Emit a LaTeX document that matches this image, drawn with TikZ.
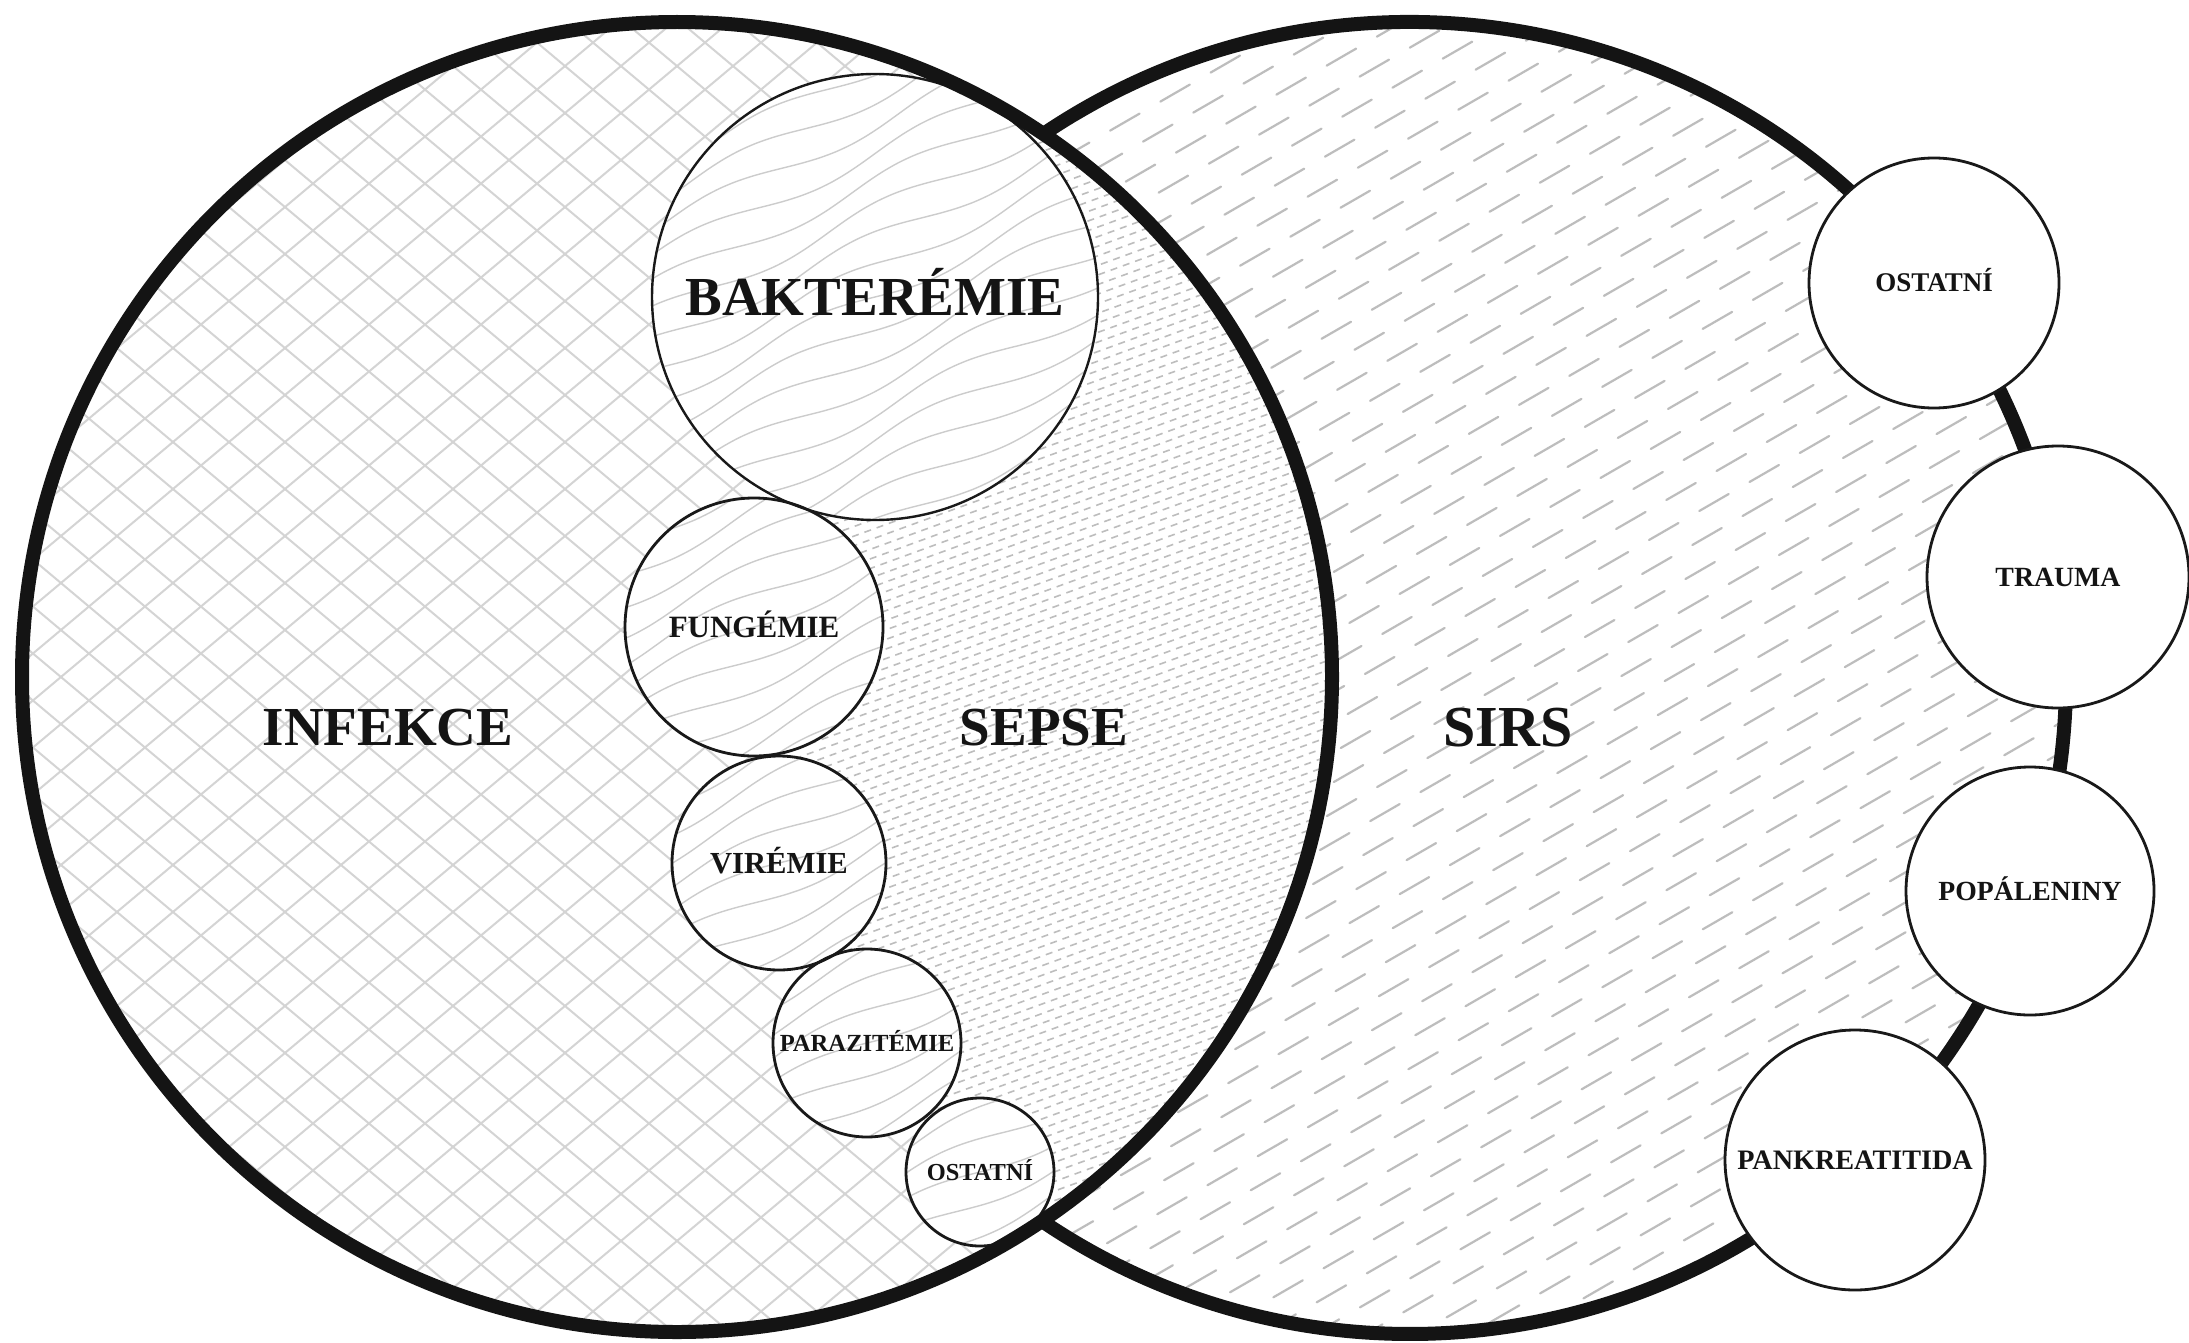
\documentclass[tikz,border=0pt]{standalone}
\usepackage{fontspec}
\setmainfont{Liberation Serif}
\newcommand\mywood[3]{%
  \begin{scope}
    \clip (#1,#2) circle (#3);
    \fill[white] (#1,#2) circle (#3);
    \begin{scope}[shift={(#1,#2)}, rotate=25]
      \foreach \k in {-9,...,9}
        \draw[woodline] plot[smooth, domain=-250:250, samples=30] (\x, {\k*26 + 8*sin(1.4*\x + 53*\k)});
    \end{scope}
  \end{scope}}
\begin{document}
\begin{tikzpicture}[x=0.5pt,y=-0.5pt,
  bigline/.style={line width=7pt, draw=black!92},
  smallc/.style={circle, draw=black!90, line width=1.4pt, inner sep=0pt, text depth=0pt, text=black!92},
  whitec/.style={smallc, fill=white},
  hatchline/.style={draw=black!17, line width=1pt},
  sirsline/.style={draw=black!26, line width=1.1pt, line cap=round, dash pattern=on 17pt off 12pt},
  sepseline/.style={draw=black!26, line width=0.8pt, dash pattern=on 3.5pt off 3pt},
  woodline/.style={draw=black!20, line width=0.7pt},
  bigfont/.style={font=\fontsize{27.5pt}{30pt}\selectfont\bfseries, text height=18.2pt, text depth=0pt, inner sep=0pt, text=black!92},
]
\useasboundingbox (0,0) rectangle (2189,1343);
\fill[white] (0,0) rectangle (2189,1343);

% SIRS texture
\begin{scope}
  \clip (1410,678) circle (656);
  \begin{scope}[rotate around={30:(1410,678)}]
    \foreach \k [evaluate=\k as \ph using {mod(abs(\k)*23,58)/2}] in {-28,...,28}
      \draw[sirsline, dash phase=\ph pt] (700,678+\k*26) -- (2120,678+\k*26);
  \end{scope}
\end{scope}

% INFEKCE crosshatch
\begin{scope}
  \clip (677,677) circle (655);
  \foreach \a in {40,-40}{
    \begin{scope}[rotate around={\a:(677,677)}]
      \foreach \k in {-22,...,22}
        \draw[hatchline] (-50,677+\k*36) -- (1400,677+\k*36);
    \end{scope}}
\end{scope}

% SEPSE lens
\begin{scope}
  \clip (677,677) circle (655);
  \fill[white] (1410,678) circle (656);
  \clip (1410,678) circle (656);
  \begin{scope}[rotate around={20:(1043,678)}]
    \foreach \k [evaluate=\k as \ph using {mod(abs(\k)*4,7)}] in {-70,...,70}
      \draw[sepseline, dash phase=\ph pt] (400,678+\k*9) -- (1700,678+\k*9);
  \end{scope}
\end{scope}

% small circles of infection types
\mywood{875}{297}{223}
\mywood{754}{627}{129}
\mywood{779}{863}{107}
\mywood{867}{1043}{94}
\mywood{980}{1172}{74}
\node[smallc, minimum size=223pt, line width=1.2pt, font=\fontsize{27.5pt}{30pt}\selectfont\bfseries, text height=18.2pt] (bak) at (875,297) {BAKTERÉMIE};
\node[smallc, minimum size=129pt, font=\fontsize{15.5pt}{17pt}\selectfont\bfseries, text height=10.2pt] (fun) at (754,627) {FUNGÉMIE};
\node[smallc, minimum size=107pt, font=\fontsize{15.3pt}{17pt}\selectfont\bfseries, text height=10.1pt] (vir) at (779,863) {VIRÉMIE};
\node[smallc, minimum size=94pt, font=\fontsize{12.3pt}{14pt}\selectfont\bfseries, text height=8.1pt] (par) at (867,1043) {PARAZITÉMIE};
\node[smallc, minimum size=74pt, font=\fontsize{12.2pt}{14pt}\selectfont\bfseries, text height=8.1pt] (ostl) at (980,1172) {OSTATNÍ};

% big circles outlines
\draw[bigline] (677,677) circle (655);
\draw[bigline] (1410,678) ++(-124:656) arc[start angle=-124, end angle=124, radius=656];

% SIRS causes
\node[whitec, minimum size=125pt, font=\fontsize{13.5pt}{15pt}\selectfont\bfseries, text height=8.9pt] (ostr) at (1934,283) {OSTATNÍ};
\node[whitec, minimum size=131pt, font=\fontsize{13.9pt}{15pt}\selectfont\bfseries, text height=9.2pt] (tra) at (2058,577) {TRAUMA};
\node[whitec, minimum size=124pt, font=\fontsize{13.85pt}{15pt}\selectfont\bfseries, text height=9.2pt] (pop) at (2030,891) {POPÁLENINY};
\node[whitec, minimum size=130pt, font=\fontsize{14.1pt}{15pt}\selectfont\bfseries, text height=9.3pt] (pan) at (1855,1160) {PANKREATITIDA};

% region labels
\node[bigfont] (inf) at (388,727) {INFEKCE};
\node[bigfont] (sep) at (1044,727) {SEPSE};
\node[bigfont, font=\fontsize{29pt}{31pt}\selectfont\bfseries, text height=19.2pt] (sirs) at (1508,727) {SIRS};
\end{tikzpicture}
\end{document}
